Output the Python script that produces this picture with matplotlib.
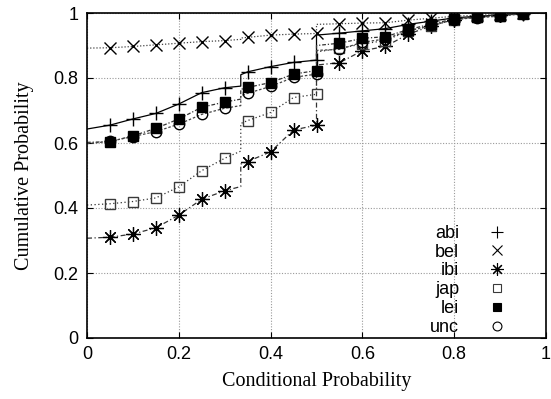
import matplotlib
matplotlib.use("Agg")
import matplotlib.pyplot as plt
from matplotlib.ticker import FuncFormatter
from matplotlib.lines import Line2D

# ---------------- data ----------------
marker_x = [0.05, 0.10, 0.15, 0.20, 0.25, 0.30, 0.35, 0.40, 0.45, 0.50,
            0.55, 0.60, 0.65, 0.70, 0.75, 0.80, 0.85, 0.90, 0.95]

series_names = ["abi", "bel", "ibi", "jap", "lei", "unc"]

abi_vals = [0.655, 0.674, 0.691, 0.720, 0.755, 0.770, 0.819, 0.835, 0.848, 0.855,
            0.938, 0.945, 0.952, 0.965, 0.975, 0.985, 0.990, 0.994, 0.998]
bel_vals = [0.893, 0.897, 0.902, 0.907, 0.912, 0.915, 0.925, 0.932, 0.935, 0.937,
            0.967, 0.969, 0.970, 0.978, 0.984, 0.990, 0.993, 0.996, 1.000]
ibi_vals = [0.310, 0.320, 0.339, 0.378, 0.427, 0.453, 0.543, 0.573, 0.640, 0.655,
            0.847, 0.884, 0.897, 0.935, 0.960, 0.980, 0.990, 0.995, 1.000]
jap_vals = [0.413, 0.420, 0.431, 0.465, 0.515, 0.553, 0.669, 0.694, 0.740, 0.750,
            0.891, 0.905, 0.915, 0.945, 0.960, 0.980, 0.987, 0.992, 1.000]
lei_vals = [0.604, 0.622, 0.645, 0.674, 0.710, 0.726, 0.771, 0.786, 0.812, 0.823,
            0.907, 0.922, 0.927, 0.949, 0.966, 0.982, 0.987, 0.992, 0.998]
unc_vals = [0.605, 0.620, 0.635, 0.658, 0.688, 0.707, 0.753, 0.774, 0.802, 0.812,
            0.888, 0.910, 0.920, 0.945, 0.962, 0.980, 0.986, 0.990, 0.998]

# curve value at x=0, values just before/after the jump near 0.335,
# and value just after the jump at 0.5
start_vals = [0.643, 0.892, 0.307, 0.409, 0.602, 0.598]
jump1_before = [0.775, 0.919, 0.466, 0.575, 0.735, 0.715]
jump1_after = [0.810, 0.923, 0.535, 0.660, 0.765, 0.745]
jump2_after = [0.932, 0.965, 0.840, 0.880, 0.900, 0.885]
jump1_x = 0.335
jump2_x = 0.50
end_x, end_y = 1.0, 1.0

x_ticks = [0, 0.2, 0.4, 0.6, 0.8, 1]
y_ticks = [0, 0.2, 0.4, 0.6, 0.8, 1]

# ---------------- styles ----------------
all_vals = [abi_vals, bel_vals, ibi_vals, jap_vals, lei_vals, unc_vals]
markers = ["+", "x", (8, 2, 0), "s", "s", "o"]
mfc = ["none", "none", "none", "none", "black", "none"]
mec = ["black", "black", "black", "#3a3a3a", "black", "black"]
msz = [10, 8, 10.5, 7.5, 7.5, 7.5]
mew = [1.0, 1.0, 0.9, 1.0, 1.0, 1.0]
lstyles = ["-", (0, (1, 1.5)), (0, (4, 2, 1, 2)), (0, (1, 2)),
           (0, (3, 1.5, 1, 1.5)), (0, (2, 1.5))]
lcolors = ["black", "#444444", "#333333", "#333333", "#333333", "#444444"]

plt.rcParams["font.family"] = ["Liberation Sans", "DejaVu Sans"]

fig = plt.figure(figsize=(5.51, 3.99), dpi=100)
ax = fig.add_axes([87 / 551, 1 - 338 / 399, 459 / 551, 325 / 399])

for i, vals in enumerate(all_vals):
    lx = ([0.0] + marker_x[:6] + [jump1_x, jump1_x] + marker_x[6:10]
          + [jump2_x] + marker_x[10:] + [end_x])
    ly = ([start_vals[i]] + vals[:6] + [jump1_before[i], jump1_after[i]]
          + vals[6:10] + [jump2_after[i]] + vals[10:] + [end_y])
    ax.plot(lx, ly, linestyle=lstyles[i], color=lcolors[i], lw=0.9, zorder=2)
    ax.plot(marker_x, vals, linestyle="none", marker=markers[i],
            markersize=msz[i], markerfacecolor=mfc[i],
            markeredgecolor=mec[i], markeredgewidth=mew[i], zorder=3)

ax.set_xlim(0, 1)
ax.set_ylim(0, 1)
ax.set_xticks(x_ticks)
ax.set_yticks(y_ticks)
fmt = FuncFormatter(lambda v, p: "%g" % v)
ax.xaxis.set_major_formatter(fmt)
ax.yaxis.set_major_formatter(fmt)
ax.tick_params(direction="in", length=4, width=0.8, top=True, right=True,
               labelsize=13, pad=6, colors="black")
ax.grid(True, color="#9a9a9a", linestyle=(0, (1, 1.5)), linewidth=0.8)
ax.set_axisbelow(True)
for s in ax.spines.values():
    s.set_linewidth(1.2)

ax.set_xlabel("Conditional Probability", family=["Liberation Serif"],
              fontsize=14.5, labelpad=6)
ax.set_ylabel("Cumulative Probability", family=["Liberation Serif"],
              fontsize=14.5, labelpad=14)

handles = []
for i, name in enumerate(series_names):
    handles.append(Line2D([], [], linestyle="none", marker=markers[i],
                          markersize=msz[i] * 0.85, markerfacecolor=mfc[i],
                          markeredgecolor=mec[i], markeredgewidth=0.8,
                          label=name))
leg = ax.legend(handles=handles, loc="lower right", markerfirst=False,
                frameon=False, fontsize=13, handlelength=1.0,
                handletextpad=1.6, labelspacing=0.1,
                bbox_to_anchor=(0.945, -0.038), borderpad=0.3)

fig.savefig("out.png", dpi=100)
